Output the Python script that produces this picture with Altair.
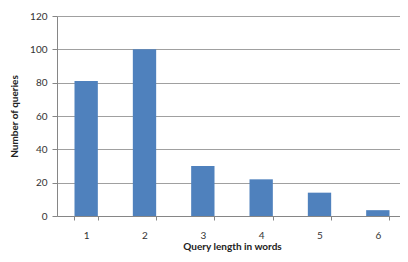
import altair as alt
import pandas as pd

lengths = ["1", "2", "3", "4", "5", "6"]
queries = [81, 100, 30, 22, 14, 3.5]

df = pd.DataFrame({"length": lengths, "queries": queries})

font = "Lato"
chart = alt.Chart(df).mark_bar(color="#4F81BD").encode(
    x=alt.X("length:N", sort=lengths, title="Query length in words",
            scale=alt.Scale(paddingInner=0.6, paddingOuter=0.3, range=[0, 350]),
            axis=alt.Axis(labelAngle=0, tickBand="extent", grid=False,
                          domainColor="#868686", tickColor="#868686", tickSize=4,
                          labelPadding=10, titlePadding=1,
                          labelFont=font, labelFontSize=10, labelColor="#333333",
                          titleFont=font, titleFontSize=10, titleFontWeight="bold",
                          titleColor="#222222")),
    y=alt.Y("queries:Q", title="Number of queries",
            scale=alt.Scale(domain=[0, 120], nice=False),
            axis=alt.Axis(values=[0, 20, 40, 60, 80, 100, 120], grid=True,
                          gridColor="#a0a0a0", domainColor="#868686", tickColor="#868686",
                          tickSize=5, labelPadding=5, titlePadding=10,
                          labelFont=font, labelFontSize=10, labelColor="#333333",
                          titleFont=font, titleFontSize=10, titleFontWeight="bold",
                          titleColor="#222222")),
).properties(
    width=343, height=200,
    autosize=alt.AutoSizeParams(type="none"),
    padding={"left": 49, "top": 8, "right": 0, "bottom": 38},
).configure_view(stroke=None)

chart.save("out.html", embed_options={"renderer": "svg", "actions": False})
